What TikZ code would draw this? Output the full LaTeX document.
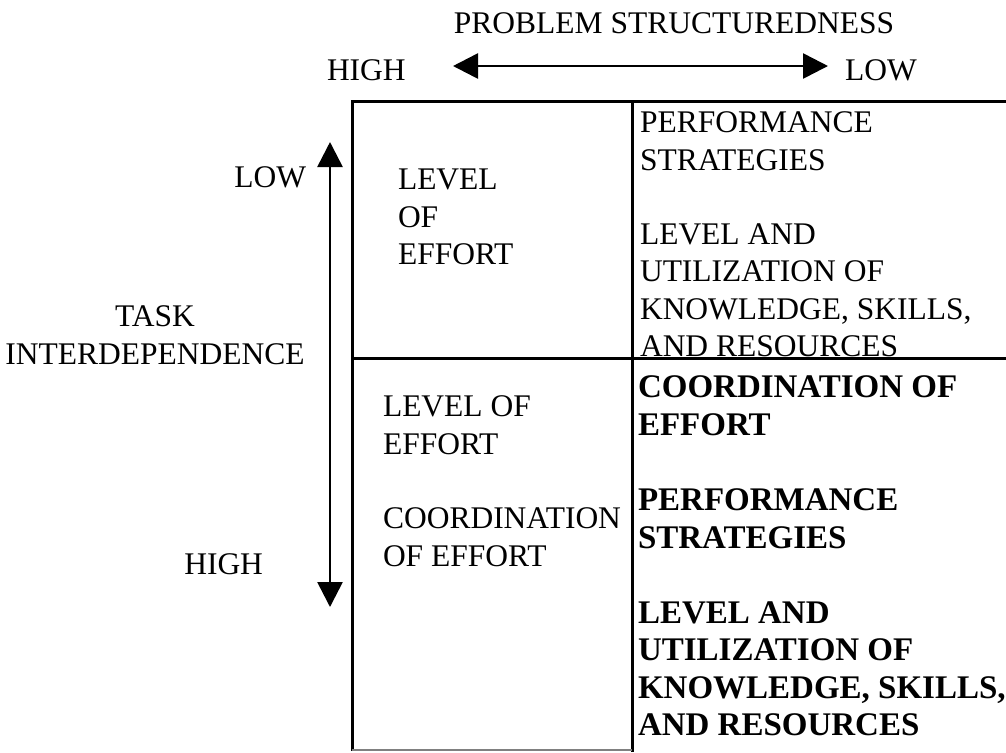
\documentclass[tikz,border=0pt]{standalone}
\usepackage{fontspec}
\setmainfont{Liberation Serif}
\usetikzlibrary{arrows.meta,positioning}

\begin{document}
\begin{tikzpicture}[x=0.5pt, y=-0.5pt,
    every node/.style={inner sep=0pt, outer sep=0pt, text=black},
    plain/.style={font=\fontsize{15.75}{18.75}\selectfont, align=left},
    strong/.style={font=\fontsize{16.5}{18.75}\selectfont\bfseries, align=left},
    grid/.style={line width=1.5pt},
    axis/.style={line width=1.3pt, {Triangle[length=12.5pt,width=12.5pt]}-{Triangle[length=12.5pt,width=12.5pt]}},
    node distance=26.5pt,
    ]
    \useasboundingbox (0,0) rectangle (1006,752);

    % problem structuredness axis
    \node[plain, anchor=base] (probstruct) at (674,33) {PROBLEM STRUCTUREDNESS};
    \node[plain, anchor=base west] (highps) at (327,80) {HIGH};
    \node[plain, anchor=base west] (lowps) at (845,80) {LOW};
    \coordinate (psl) at (453,66);
    \coordinate (psr) at (828,66);
    \draw[axis] (psl) -- (psr);

    % task interdependence axis
    \node[plain, align=center, anchor=north] (taskint) at (155,306) {TASK\\INTERDEPENDENCE};
    \node[plain, anchor=base east] (lowti) at (306,187) {LOW};
    \node[plain, anchor=base east] (highti) at (263,574) {HIGH};
    \coordinate (tit) at (330,142);
    \coordinate (tib) at (330,607);
    \draw[axis] (tit) -- (tib);

    % the grid
    \draw[grid] (1006,101) -- (352,101) -- (352,751);
    \draw[grid] (632,101) -- (632,752);
    \draw[grid] (352,358) -- (1006,358);
    \draw[gray, line width=0.8pt] (352,750) -- (632,750);

    % upper cells
    \node[plain, anchor=north west] (uleffort) at (398,169) {LEVEL\\OF\\EFFORT};
    \node[plain, anchor=north west] (urperf) at (640,112) {PERFORMANCE\\STRATEGIES};
    \node[plain, below=of urperf.south west, anchor=north west] (urskills)
        {LEVEL AND\\UTILIZATION OF\\KNOWLEDGE, SKILLS,\\AND RESOURCES};

    % lower cells
    \node[plain, anchor=north west] (lleffort) at (383,396) {LEVEL OF\\EFFORT};
    \node[plain, below=of lleffort.south west, anchor=north west] (llcoord) {COORDINATION\\OF EFFORT};
    \node[strong, anchor=north west] (lrcoord) at (638,376) {COORDINATION OF\\EFFORT};
    \node[strong, below=of lrcoord.south west, anchor=north west] (lrperf) {PERFORMANCE\\STRATEGIES};
    \node[strong, below=of lrperf.south west, anchor=north west] (lrskills)
        {LEVEL AND\\UTILIZATION OF\\KNOWLEDGE, SKILLS,\\AND RESOURCES};
\end{tikzpicture}
\end{document}
